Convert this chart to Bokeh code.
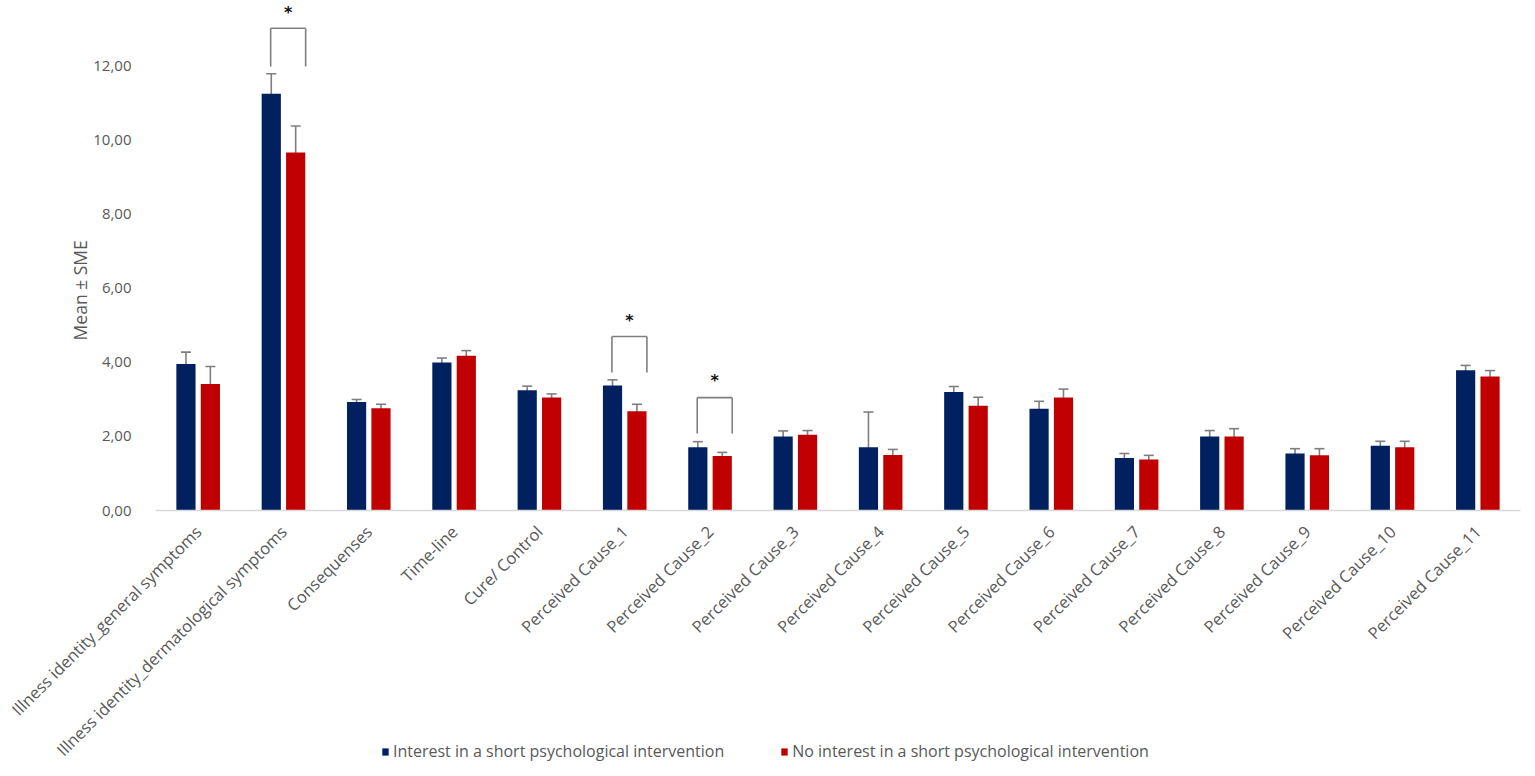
from math import pi
from bokeh.plotting import figure
from bokeh.models import (ColumnDataSource, Range1d, FixedTicker, Whisker, LinearAxis,
                          TeeHead, Legend, LegendItem, Label)
from bokeh.transform import dodge
from bokeh.core.properties import value
from bokeh.embed import file_html
from bokeh.resources import INLINE

categories = ["Illness identity_general symptoms", "Illness identity_dermatological symptoms",
              "Consequenses", "Time-line", "Cure/ Control",
              "Perceived Cause_1", "Perceived Cause_2", "Perceived Cause_3", "Perceived Cause_4",
              "Perceived Cause_5", "Perceived Cause_6", "Perceived Cause_7", "Perceived Cause_8",
              "Perceived Cause_9", "Perceived Cause_10", "Perceived Cause_11"]
interest_mean = [3.96, 11.26, 2.93, 4.00, 3.25, 3.38, 1.71, 2.00, 1.71, 3.20, 2.75, 1.42, 2.00, 1.54, 1.75, 3.79]
interest_err = [0.32, 0.54, 0.07, 0.12, 0.11, 0.15, 0.15, 0.15, 0.95, 0.15, 0.20, 0.12, 0.16, 0.13, 0.12, 0.13]
no_interest_mean = [3.42, 9.67, 2.76, 4.18, 3.05, 2.68, 1.47, 2.05, 1.50, 2.83, 3.05, 1.38, 2.00, 1.49, 1.71, 3.62]
no_interest_err = [0.47, 0.72, 0.11, 0.14, 0.10, 0.19, 0.10, 0.11, 0.15, 0.23, 0.23, 0.11, 0.21, 0.18, 0.16, 0.16]
y_ticks = [0, 2, 4, 6, 8, 10, 12]
y_tick_labels = ["0,00", "2,00", "4,00", "6,00", "8,00", "10,00", "12,00"]
series_names = ["Interest in a short psychological intervention",
                "No interest in a short psychological intervention"]
y_title = "Mean ± SME"

sig_categories = ["Illness identity_dermatological symptoms", "Perceived Cause_1", "Perceived Cause_2"]
sig_bottom = [12.0, 3.73, 2.08]
sig_top = [13.03, 4.70, 3.05]
sig_star = [13.46, 5.14, 3.51]

BLUE = "#002060"
RED = "#C00000"
GREY_TXT = "#595959"
ERR = "#7F7F7F"

W, H = 1535, 776
LEFT, RIGHT, BOTTOM = 155, 15, 266          # pixel margins around the bar area
n = len(categories)
cat_px = (W - LEFT - RIGHT) / n             # pixels per category
y_top = 13.78
px_per_unit = (H - BOTTOM) / y_top

cat_pos = list(range(n))
src = ColumnDataSource(dict(
    xc=cat_pos,
    m1=interest_mean, lo1=[m - e for m, e in zip(interest_mean, interest_err)],
    hi1=[m + e for m, e in zip(interest_mean, interest_err)],
    m2=no_interest_mean, lo2=[m - e for m, e in zip(no_interest_mean, no_interest_err)],
    hi2=[m + e for m, e in zip(no_interest_mean, no_interest_err)],
))

x_range = Range1d(-0.5 - LEFT / cat_px, n - 0.5 + RIGHT / cat_px)
y_range = Range1d(-BOTTOM / px_per_unit, y_top)

p = figure(x_range=x_range, y_range=y_range, width=W, height=H, output_backend="svg",
           toolbar_location=None, min_border=0, x_axis_location=None, y_axis_location=None)
p.outline_line_color = None
p.xgrid.visible = False
p.ygrid.visible = False

off = 0.143
bw = 0.225
r1 = p.vbar(x=dodge("xc", -off), top="m1", width=bw, source=src, fill_color=BLUE, line_color=None)
r2 = p.vbar(x=dodge("xc", off), top="m2", width=bw, source=src, fill_color=RED, line_color=None)

for xo, lo, hi in [(-off, "lo1", "hi1"), (off, "lo2", "hi2")]:
    w = Whisker(base=dodge("xc", xo), lower=lo, upper=hi, source=src,
                line_color=ERR, line_width=1.6,
                upper_head=TeeHead(size=10, line_color=ERR, line_width=1.6),
                lower_head=TeeHead(size=10, line_color=ERR, line_width=1.6))
    p.add_layout(w)

# significance brackets
sig_src = ColumnDataSource(dict(xc=[categories.index(c) for c in sig_categories],
                                b=sig_bottom, t=sig_top, s=sig_star,
                                star=["*"] * len(sig_categories)))
bl, br = -0.15, 0.26
p.segment(x0=dodge("xc", bl), y0="b", x1=dodge("xc", bl), y1="t",
          source=sig_src, line_color=ERR, line_width=1.6)
p.segment(x0=dodge("xc", br), y0="b", x1=dodge("xc", br), y1="t",
          source=sig_src, line_color=ERR, line_width=1.6)
p.segment(x0=dodge("xc", bl), y0="t", x1=dodge("xc", br), y1="t",
          source=sig_src, line_color=ERR, line_width=1.6)
p.text(x=dodge("xc", (bl + br) / 2), y="s", text="star", source=sig_src,
       text_align="center", text_baseline="middle", text_font=value("DejaVu Sans"),
       text_font_size="16px", text_font_style="bold", text_color="#111111")

# x axis (category labels) fixed at y = 0
xaxis = LinearAxis(fixed_location=0, bounds=(-0.5, n - 0.5),
                   ticker=FixedTicker(ticks=cat_pos),
                   major_label_overrides={i: c for i, c in zip(cat_pos, categories)})
xaxis.axis_line_color = "#D9D9D9"
xaxis.axis_line_width = 1.5
xaxis.major_tick_line_color = None
xaxis.minor_tick_line_color = None
xaxis.major_label_orientation = pi / 4
xaxis.major_label_standoff = 12
xaxis.major_label_text_font = "Open Sans"
xaxis.major_label_text_font_size = "16.5px"
xaxis.major_label_text_color = GREY_TXT
p.add_layout(xaxis, "below")

# y axis fixed at the left edge of the bar area
yaxis = LinearAxis(fixed_location=-0.5, ticker=FixedTicker(ticks=y_ticks),
                   major_label_overrides={t: l for t, l in zip(y_ticks, y_tick_labels)})
yaxis.axis_line_color = None
yaxis.major_tick_line_color = None
yaxis.minor_tick_line_color = None
yaxis.major_label_standoff = 18
yaxis.major_label_text_font = "Open Sans"
yaxis.major_label_text_font_size = "15px"
yaxis.major_label_text_color = GREY_TXT
p.add_layout(yaxis, "left")

ylab = Label(x=-0.5 - 76 / cat_px, y=5.95, text=y_title, angle=pi / 2,
             text_align="center", text_baseline="middle", text_font="Open Sans",
             text_font_size="17.5px", text_color=GREY_TXT)
p.add_layout(ylab)

legend = Legend(items=[LegendItem(label=series_names[0], renderers=[r1]),
                       LegendItem(label=series_names[1], renderers=[r2])],
                orientation="horizontal", location=(381, 14),
                glyph_width=8, glyph_height=9, label_standoff=4, spacing=56,
                padding=0, margin=0, background_fill_alpha=0, border_line_color=None,
                label_text_font="Open Sans", label_text_font_size="16px",
                label_height=20, label_text_color=GREY_TXT)
p.add_layout(legend, "center")

open("out.html", "w").write(file_html(p, INLINE))
